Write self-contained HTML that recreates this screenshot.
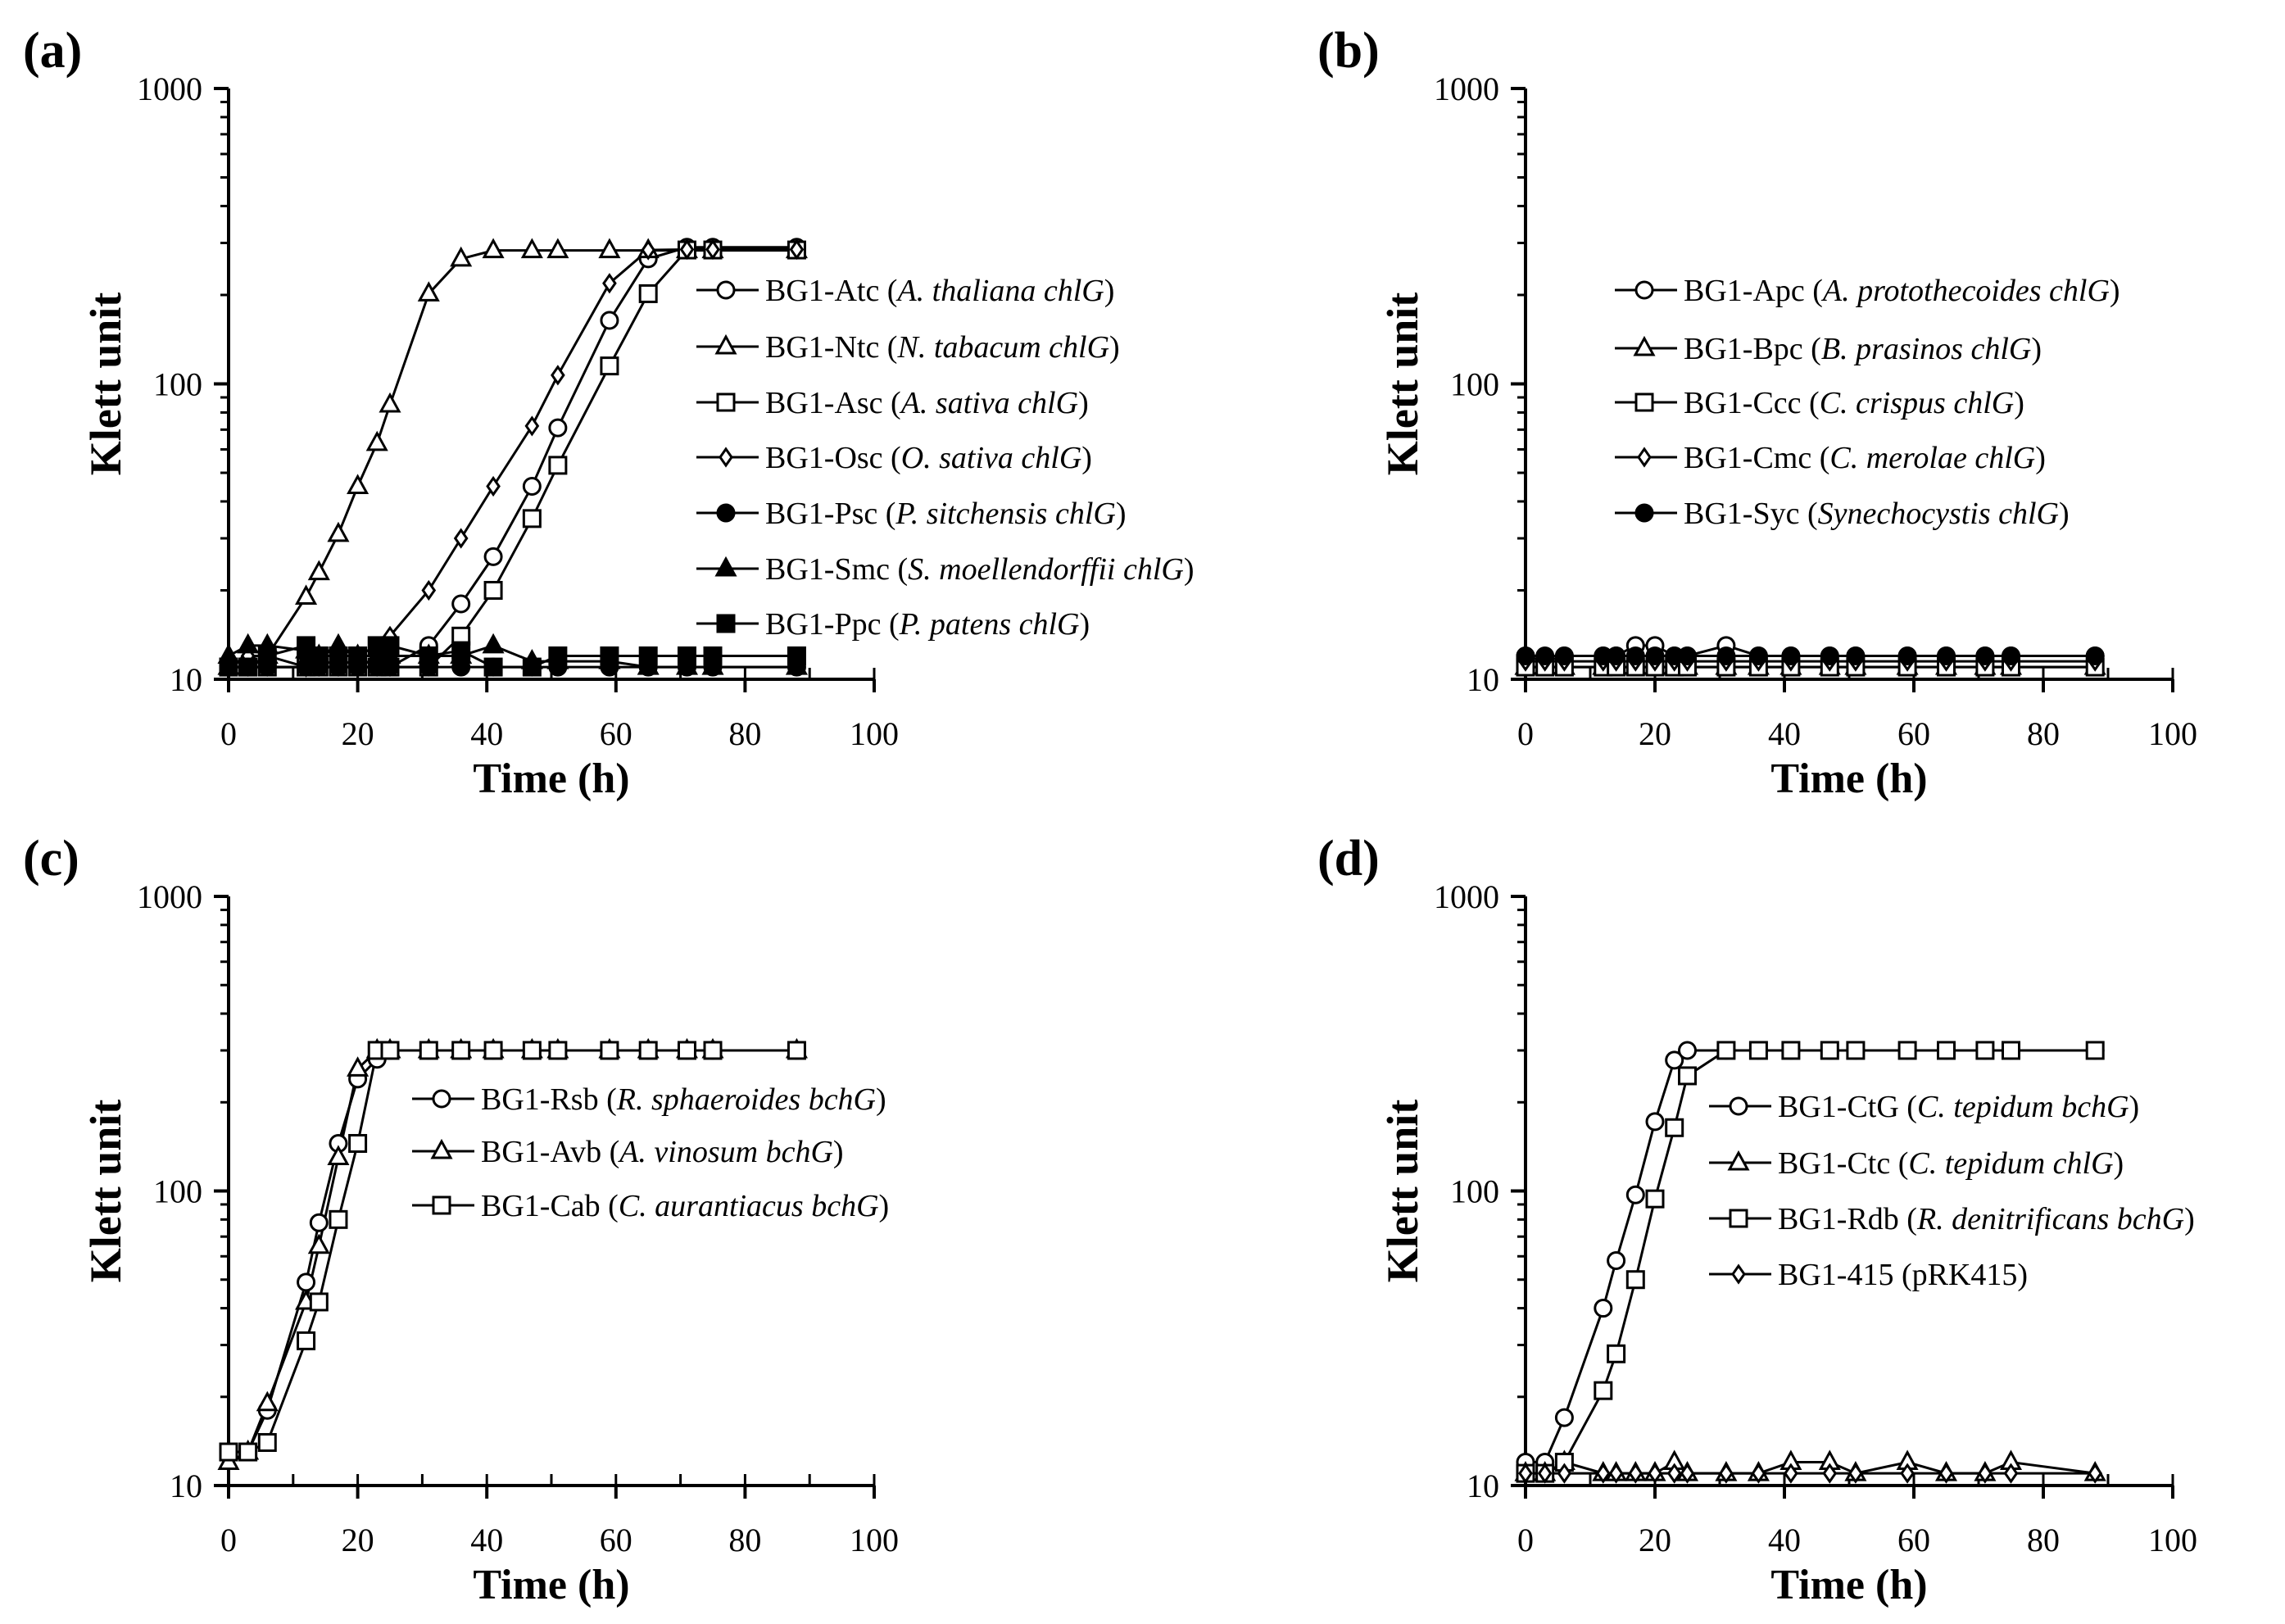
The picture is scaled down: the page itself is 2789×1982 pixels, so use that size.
<!DOCTYPE html>
<html><head><meta charset="utf-8">
<style>
html,body{margin:0;padding:0;background:#fff;}
svg{display:block;font-family:"Liberation Serif",serif;}
</style></head>
<body>
<svg id="fig" width="2789" height="1982" viewBox="0 0 2789 1982" xmlns="http://www.w3.org/2000/svg"></svg>
<script>
// ---- data ----
const timesA = [0,3,6,12,14,17,20,23,25,31,36,41,47,51,59,65,71,75,88];
const atcA = [11,11,11,11,11,11,11,11,11,13,18,26,45,71,164,265,290,290,290];
const ntcA = [11,12,12,19,23,31,45,63,85,202,265,283,283,283,283,283,283,283,283];
const ascA = [11,11,11,11,11,11,11,11,11,11,14,20,35,53,115,202,284,284,284];
const oscA = [11,12,12,11,12,12,12,12,14,20,30,45,72,107,219,284,285,285,285];
const pscA = [11,11,11,11,11,11,11,11,11,11,11,11,11,11,11,11,11,11,11];
const smcA = [12,13,13,12.5,12,13,12,12,12,12,12,13,11.5,11.5,11.5,11,11,11,11];
const ppcA = [11,11,12,13,12,12,12,13,13,12,12.5,11,11,12,12,12,12,12,12];

const timesB = [0,3,6,12,14,17,20,23,25,31,36,41,47,51,59,65,71,75,88];
const apcB = [12,11.5,12,12,12,13,13,12,12,13,12,12,12,12,12,12,12,12,12];
const bpcB = [11,11,11,11,11,11,11,11,11,11,11,11,11,11,11,11,11,11,11];
const cccB = [11,11,11,11,11,11,11,11,11,11,11,11,11,11,11,11,11,11,11];
const cmcB = [11.5,11.5,11.5,11.5,11.5,11.5,11.5,11.5,11.5,11.5,11.5,11.5,11.5,11.5,11.5,11.5,11.5,11.5,11.5];
const sycB = [12,12,12,12,12,12,12,12,12,12,12,12,12,12,12,12,12,12,12];

const timesC = [0,3,6,12,14,17,20,23,25,31,36,41,47,51,59,65,71,75,88];
const rsbC = [13,13,18,49,78,145,240,280,300,300,300,300,300,300,300,300,300,300,300];
const avbC = [12,13,19,42,65,130,260,300,300,300,300,300,300,300,300,300,300,300,300];
const cabC = [13,13,14,31,42,80,145,300,300,300,300,300,300,300,300,300,300,300,300];

const timesD = [0,3,6,12,14,17,20,23,25,31,36,41,47,51,59,65,71,75,88];
const ctgD = [12,12,17,40,58,97,172,278,300,300,300,300,300,300,300,300,300,300,300];
const ctcD = [11,11,12,11,11,11,11,12,11,11,11,12,12,11,12,11,11,12,11];
const rdbD = [11,11,12,21,28,50,94,164,246,300,300,300,300,300,300,300,300,300,300];
const pkD  = [11,11,11,11,11,11,11,11,11,11,11,11,11,11,11,11,11,11,11];

const xTicks = [0,20,40,60,80,100];
const yTicks = [10,100,1000];

// ---- drawing ----
const NS="http://www.w3.org/2000/svg";
const svg=document.getElementById('fig');
function el(tag,attrs,parent){const e=document.createElementNS(NS,tag);for(const k in attrs)e.setAttribute(k,attrs[k]);(parent||svg).appendChild(e);return e;}

function marker(g,type,cx,cy,name){
  const r=10;let m;
  const fill=type.filled?'#000':'#fff';
  if(type.shape==='circle'){m=el('circle',{cx:cx,cy:cy,r:r,fill:fill,stroke:'#000','stroke-width':3},g);}
  else if(type.shape==='square'){m=el('rect',{x:cx-r,y:cy-r,width:2*r,height:2*r,fill:fill,stroke:'#000','stroke-width':3},g);}
  else if(type.shape==='triangle'){m=el('polygon',{points:`${cx},${cy-r-2} ${cx-r-1},${cy+r-2} ${cx+r+1},${cy+r-2}`,fill:fill,stroke:'#000','stroke-width':3},g);}
  else {m=el('polygon',{points:`${cx},${cy-r} ${cx-7},${cy} ${cx},${cy+r} ${cx+7},${cy}`,fill:fill,stroke:'#000','stroke-width':3},g);}
  
  
}

function panel(p){
  const g=el('g',{});
  
  
  const X=v=>p.x0+(p.x1-p.x0)*v/100;
  const Y=v=>p.y10+(p.y1000-p.y10)*(Math.log10(v)-1)/2;
  const lbl=el('text',{x:p.lx,y:p.ly,'font-size':62,'font-weight':'bold'},g);lbl.textContent='('+p.id+')';
  
  const ya=el('line',{x1:X(0),y1:Y(1000),x2:X(0),y2:Y(10),stroke:'#000','stroke-width':4},g);
  
  const xa=el('line',{x1:X(0)-14,y1:Y(10),x2:X(100),y2:Y(10),stroke:'#000','stroke-width':4},g);
  
  for(let d=1;d<=2;d++)for(let k=2;k<=9;k++){const v=k*Math.pow(10,d);
    el('line',{x1:X(0)-10,y1:Y(v),x2:X(0),y2:Y(v),stroke:'#000','stroke-width':3},g);}
  yTicks.forEach(v=>{el('line',{x1:X(0)-18,y1:Y(v),x2:X(0),y2:Y(v),stroke:'#000','stroke-width':4},g);
    const t=el('text',{x:X(0)-32,y:Y(v)+14,'font-size':40,'text-anchor':'end'},g);t.textContent=v;
    });
  for(let v=10;v<=100;v+=10){el('line',{x1:X(v),y1:Y(10)-14,x2:X(v),y2:Y(10),stroke:'#000','stroke-width':3},g);}
  xTicks.forEach(v=>{el('line',{x1:X(v),y1:Y(10),x2:X(v),y2:Y(10)+16,stroke:'#000','stroke-width':4},g);
    const t=el('text',{x:X(v),y:Y(10)+80,'font-size':40,'text-anchor':'middle'},g);t.textContent=v;
    });
  const xt=el('text',{x:(X(0)+X(100))/2,y:Y(10)+138,'font-size':52,'font-weight':'bold','text-anchor':'middle'},g);xt.textContent='Time (h)';
  
  const cy=(Y(10)+Y(1000))/2;
  const yt=el('text',{x:X(0)-150,y:cy+18,'font-size':54,'font-weight':'bold','text-anchor':'middle',transform:`rotate(-90 ${X(0)-150} ${cy})`},g);
  yt.textContent='Klett unit';
  
  p.series.forEach(s=>{
    const pts=p.times.map((t,i)=>X(t)+','+Y(s.vals[i])).join(' ');
    const pl=el('polyline',{points:pts,fill:'none',stroke:'#000','stroke-width':3},g);
    
  });
  p.series.forEach(s=>{p.times.forEach((t,i)=>marker(g,s,X(t),Y(s.vals[i]),'point-'+s.key));});
  p.series.forEach((s,i)=>{
    const y=p.legY[i];
    const lg=el('g',{},g);
    
    el('line',{x1:p.legX,y1:y,x2:p.legX+76,y2:y,stroke:'#000','stroke-width':3},lg);
    marker(lg,s,p.legX+36,y,'legend-marker-'+s.key);
    const t=el('text',{x:p.legX+84,y:y+13,'font-size':38},lg);
    t.innerHTML=s.label;
  });
}

panel({id:'a',x0:279,x1:1067,y1000:108,y10:829,lx:28,ly:82,times:timesA,legX:850,legY:[354,423,491,558,626,694,761],
 series:[
  {key:'atc',vals:atcA,shape:'circle',filled:false,label:'BG1-Atc (<tspan font-style="italic">A. thaliana chlG</tspan>)'},
  {key:'ntc',vals:ntcA,shape:'triangle',filled:false,label:'BG1-Ntc (<tspan font-style="italic">N. tabacum chlG</tspan>)'},
  {key:'asc',vals:ascA,shape:'square',filled:false,label:'BG1-Asc (<tspan font-style="italic">A. sativa chlG</tspan>)'},
  {key:'osc',vals:oscA,shape:'diamond',filled:false,label:'BG1-Osc (<tspan font-style="italic">O. sativa chlG</tspan>)'},
  {key:'psc',vals:pscA,shape:'circle',filled:true,label:'BG1-Psc (<tspan font-style="italic">P. sitchensis chlG</tspan>)'},
  {key:'smc',vals:smcA,shape:'triangle',filled:true,label:'BG1-Smc (<tspan font-style="italic">S. moellendorffii chlG</tspan>)'},
  {key:'ppc',vals:ppcA,shape:'square',filled:true,label:'BG1-Ppc (<tspan font-style="italic">P. patens chlG</tspan>)'}]});
panel({id:'b',x0:1862,x1:2652,y1000:108,y10:829,lx:1608,ly:82,times:timesB,legX:1971,legY:[354,425,491,558,626],
 series:[
  {key:'apc',vals:apcB,shape:'circle',filled:false,label:'BG1-Apc (<tspan font-style="italic">A. protothecoides chlG</tspan>)'},
  {key:'bpc',vals:bpcB,shape:'triangle',filled:false,label:'BG1-Bpc (<tspan font-style="italic">B. prasinos chlG</tspan>)'},
  {key:'ccc',vals:cccB,shape:'square',filled:false,label:'BG1-Ccc (<tspan font-style="italic">C. crispus chlG</tspan>)'},
  {key:'cmc',vals:cmcB,shape:'diamond',filled:false,label:'BG1-Cmc (<tspan font-style="italic">C. merolae chlG</tspan>)'},
  {key:'syc',vals:sycB,shape:'circle',filled:true,label:'BG1-Syc (<tspan font-style="italic">Synechocystis chlG</tspan>)'}]});
panel({id:'c',x0:279,x1:1067,y1000:1094,y10:1813,lx:28,ly:1068,times:timesC,legX:503,legY:[1341,1405,1471],
 series:[
  {key:'rsb',vals:rsbC,shape:'circle',filled:false,label:'BG1-Rsb (<tspan font-style="italic">R. sphaeroides bchG</tspan>)'},
  {key:'avb',vals:avbC,shape:'triangle',filled:false,label:'BG1-Avb (<tspan font-style="italic">A. vinosum bchG</tspan>)'},
  {key:'cab',vals:cabC,shape:'square',filled:false,label:'BG1-Cab (<tspan font-style="italic">C. aurantiacus bchG</tspan>)'}]});
panel({id:'d',x0:1862,x1:2652,y1000:1094,y10:1813,lx:1608,ly:1068,times:timesD,legX:2086,legY:[1350,1419,1487,1555],
 series:[
  {key:'ctg',vals:ctgD,shape:'circle',filled:false,label:'BG1-CtG (<tspan font-style="italic">C. tepidum bchG</tspan>)'},
  {key:'ctc',vals:ctcD,shape:'triangle',filled:false,label:'BG1-Ctc (<tspan font-style="italic">C. tepidum chlG</tspan>)'},
  {key:'rdb',vals:rdbD,shape:'square',filled:false,label:'BG1-Rdb (<tspan font-style="italic">R. denitrificans bchG</tspan>)'},
  {key:'pk415',vals:pkD,shape:'diamond',filled:false,label:'BG1-415 (pRK415)'}]});
</script>
</body></html>
